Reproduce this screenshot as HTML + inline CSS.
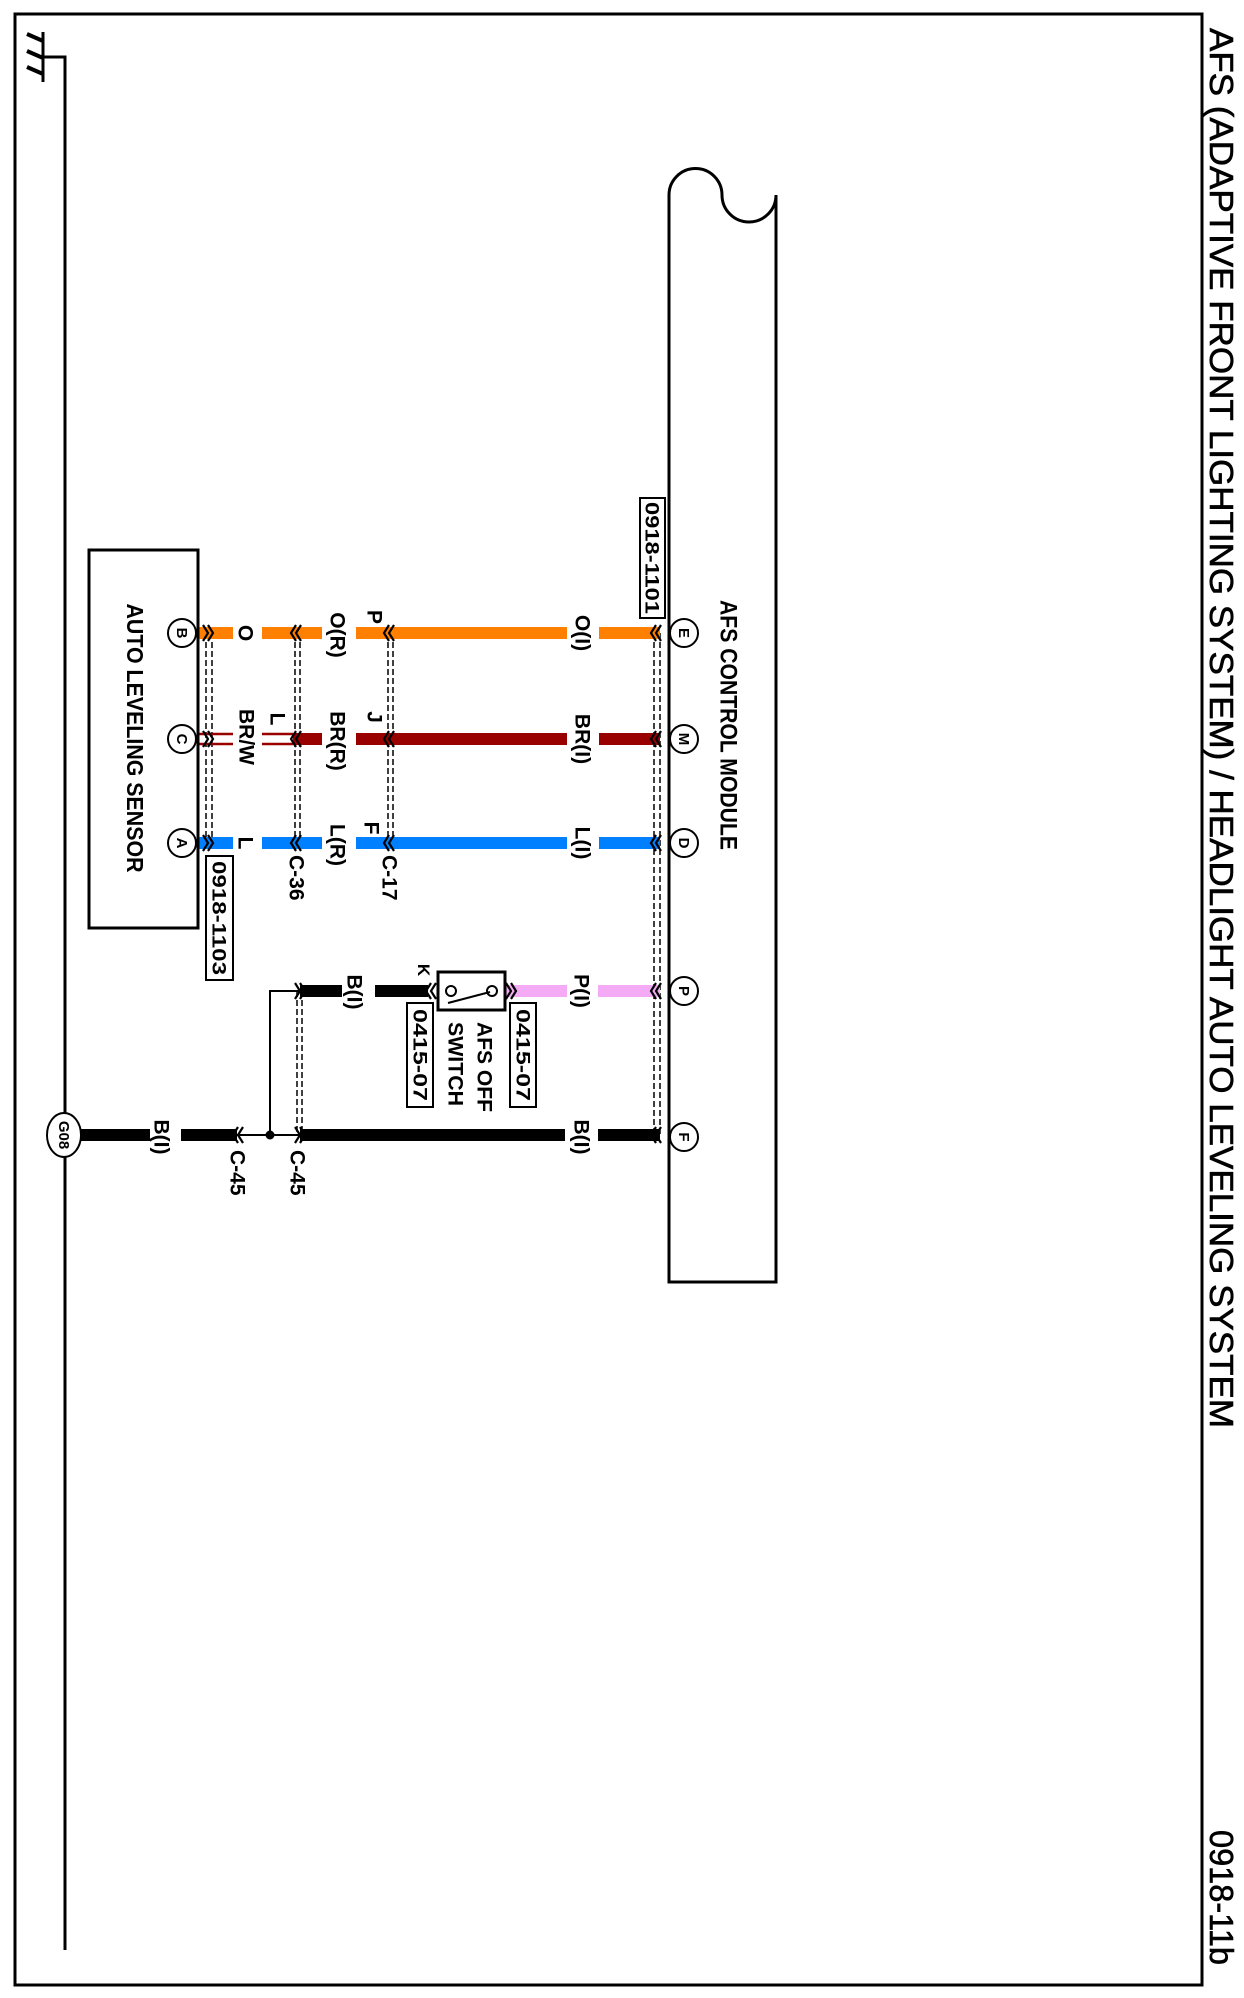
<!DOCTYPE html>
<html><head><meta charset="utf-8"><style>
html,body{margin:0;padding:0;background:#fff;}
svg{display:block;}
text{font-family:"Liberation Sans",Arial,sans-serif;font-weight:bold;fill:#000;}
</style></head><body>
<svg width="1244" height="1998" viewBox="0 0 1244 1998" xmlns="http://www.w3.org/2000/svg">
<rect x="0" y="0" width="1244" height="1998" fill="#fff"/>
<rect x="15" y="14" width="1187" height="1971" fill="none" stroke="#000" stroke-width="3"/>
<text transform="translate(1210,28) rotate(90)" font-size="33" style="font-weight:normal;stroke:#000;stroke-width:0.6" textLength="1400" lengthAdjust="spacingAndGlyphs">AFS (ADAPTIVE FRONT LIGHTING SYSTEM) / HEADLIGHT AUTO LEVELING SYSTEM</text>
<text transform="translate(1210,1830) rotate(90)" font-size="33" style="font-weight:normal;stroke:#000;stroke-width:0.6" textLength="135" lengthAdjust="spacingAndGlyphs">0918-11b</text>

<line x1="43" y1="32" x2="43" y2="82" stroke="#000" stroke-width="3"/>
<g stroke="#000" stroke-width="4"><line x1="27" y1="34" x2="43" y2="41"/><line x1="27" y1="51" x2="43" y2="58"/><line x1="27" y1="67" x2="43" y2="74"/></g>
<polyline points="43,57 65,57 65,1950" fill="none" stroke="#000" stroke-width="3"/>

<path d="M669,1282 L669,195 A26.5,26.5 0 0 1 722,195 A27,27 0 0 0 776,195 L776,1282 Z" fill="none" stroke="#000" stroke-width="3"/>
<text transform="translate(729,725) rotate(90)" font-size="24" text-anchor="middle" dy="0.35em" textLength="250" lengthAdjust="spacingAndGlyphs">AFS CONTROL MODULE</text>
<rect x="640" y="498" width="25" height="120" fill="#fff" stroke="#000" stroke-width="2"/>
<text transform="translate(652,558) rotate(90)" font-size="19" text-anchor="middle" dy="0.35em" textLength="112" lengthAdjust="spacingAndGlyphs">0918-1101</text>

<rect x="89" y="550" width="109" height="378" fill="none" stroke="#000" stroke-width="3"/>
<text transform="translate(135,738) rotate(90)" font-size="23" text-anchor="middle" dy="0.35em" textLength="269" lengthAdjust="spacingAndGlyphs">AUTO LEVELING SENSOR</text>
<rect x="206" y="856" width="27" height="124" fill="#fff" stroke="#000" stroke-width="2"/>
<text transform="translate(219,918) rotate(90)" font-size="19" text-anchor="middle" dy="0.35em" textLength="114" lengthAdjust="spacingAndGlyphs">0918-1103</text>

<g stroke="#000" stroke-width="1.5" stroke-dasharray="6,3">
<line x1="206" y1="633" x2="206" y2="843"/><line x1="212" y1="633" x2="212" y2="843"/>
<line x1="295" y1="633" x2="295" y2="843"/><line x1="300" y1="633" x2="300" y2="843"/>
<line x1="388" y1="633" x2="388" y2="843"/><line x1="393" y1="633" x2="393" y2="843"/>
<line x1="654" y1="633" x2="654" y2="1135"/><line x1="660" y1="633" x2="660" y2="1135"/>
<line x1="297" y1="991" x2="297" y2="1135"/><line x1="302" y1="991" x2="302" y2="1135"/>
</g>

<g stroke="#ff8000" stroke-width="12">
<line x1="198" y1="633" x2="233" y2="633"/><line x1="262" y1="633" x2="322" y2="633"/>
<line x1="356" y1="633" x2="567" y2="633"/><line x1="599" y1="633" x2="660" y2="633"/>
</g>
<g stroke="#990000" stroke-width="12">
<line x1="293" y1="739" x2="322" y2="739"/>
<line x1="356" y1="739" x2="567" y2="739"/><line x1="599" y1="739" x2="660" y2="739"/>
</g>
<g stroke="#990000" stroke-width="2.5">
<line x1="198" y1="734" x2="233" y2="734"/><line x1="198" y1="744" x2="233" y2="744"/>
<line x1="262" y1="734" x2="293" y2="734"/><line x1="262" y1="744" x2="293" y2="744"/>
</g>
<g stroke="#0080ff" stroke-width="12">
<line x1="198" y1="843" x2="233" y2="843"/><line x1="262" y1="843" x2="322" y2="843"/>
<line x1="356" y1="843" x2="567" y2="843"/><line x1="599" y1="843" x2="660" y2="843"/>
</g>
<g stroke="#f5aaf5" stroke-width="12">
<line x1="505" y1="991" x2="567" y2="991"/><line x1="598" y1="991" x2="660" y2="991"/>
</g>
<g stroke="#000" stroke-width="12">
<line x1="300" y1="991" x2="342" y2="991"/><line x1="375" y1="991" x2="428" y2="991"/>
<line x1="80" y1="1135" x2="150" y2="1135"/><line x1="181" y1="1135" x2="237" y2="1135"/>
<line x1="300" y1="1135" x2="565" y2="1135"/><line x1="598" y1="1135" x2="660" y2="1135"/>
</g>
<g stroke="#000" stroke-width="2" fill="none">
<line x1="237" y1="1135" x2="300" y2="1135"/>
<polyline points="270,1135 270,991 300,991"/>
</g>
<circle cx="270" cy="1135" r="4.5" fill="#000"/>

<line x1="669" y1="600" x2="669" y2="1200" stroke="#000" stroke-width="3"/>
<line x1="198" y1="600" x2="198" y2="880" stroke="#000" stroke-width="3"/>

<g stroke="#000" stroke-width="2.2" fill="none">
<g id="cr"><polyline points="203,625 208,633 203,641"/><polyline points="208,625 213,633 208,641"/></g>
<use href="#cr" y="106"/><use href="#cr" y="210"/>
<g id="cl"><polyline points="296,625 291,633 296,641"/><polyline points="301,625 296,633 301,641"/></g>
<use href="#cl" y="106"/><use href="#cl" y="210"/>
<use href="#cl" x="93"/><use href="#cl" x="93" y="106"/><use href="#cl" x="93" y="210"/>
<use href="#cl" x="360"/><use href="#cl" x="360" y="106"/><use href="#cl" x="360" y="210"/>
<use href="#cl" x="360" y="358"/><use href="#cl" x="360" y="502"/>
<use href="#cl" x="135" y="358"/>
<use href="#cl" x="-58" y="502"/>
<use href="#cr" x="92" y="358"/><use href="#cr" x="92" y="502"/>
<use href="#cr" x="303" y="358"/>
</g>

<rect x="438" y="972" width="67" height="38" fill="#fff" stroke="#000" stroke-width="3"/>
<circle cx="451" cy="991" r="5" fill="#fff" stroke="#000" stroke-width="2"/>
<circle cx="492" cy="991" r="5" fill="#fff" stroke="#000" stroke-width="2"/>
<line x1="448" y1="1003" x2="490" y2="992" stroke="#000" stroke-width="2"/>
<rect x="510" y="1003" width="26" height="104" fill="#fff" stroke="#000" stroke-width="2"/>
<text transform="translate(523,1055) rotate(90)" font-size="19" text-anchor="middle" dy="0.35em" textLength="92" lengthAdjust="spacingAndGlyphs">0415-07</text>
<rect x="407" y="1003" width="26" height="104" fill="#fff" stroke="#000" stroke-width="2"/>
<text transform="translate(420,1055) rotate(90)" font-size="19" text-anchor="middle" dy="0.35em" textLength="92" lengthAdjust="spacingAndGlyphs">0415-07</text>
<text transform="translate(485,1022) rotate(90)" font-size="21" text-anchor="start" dy="0.35em" textLength="90" lengthAdjust="spacingAndGlyphs">AFS OFF</text>
<text transform="translate(456,1022) rotate(90)" font-size="21" dy="0.35em" textLength="84" lengthAdjust="spacingAndGlyphs">SWITCH</text>

<g fill="#fff" stroke="#000" stroke-width="2">
<ellipse cx="182" cy="633" rx="14" ry="14"/><ellipse cx="182" cy="739" rx="14" ry="14"/><ellipse cx="182" cy="843" rx="14" ry="14"/>
<ellipse cx="684" cy="633" rx="14" ry="14"/><ellipse cx="684" cy="739" rx="14" ry="14"/><ellipse cx="684" cy="843" rx="14" ry="14"/>
<ellipse cx="684" cy="991" rx="14" ry="14"/><ellipse cx="684" cy="1137" rx="14" ry="14"/>
<ellipse cx="64" cy="1135" rx="17" ry="22"/>
</g>
<g font-size="15" text-anchor="middle">
<text transform="translate(182,633) rotate(90)" dy="0.35em">B</text>
<text transform="translate(182,739) rotate(90)" dy="0.35em">C</text>
<text transform="translate(182,843) rotate(90)" dy="0.35em">A</text>
<text transform="translate(684,633) rotate(90)" dy="0.35em">E</text>
<text transform="translate(684,739) rotate(90)" dy="0.35em">M</text>
<text transform="translate(684,843) rotate(90)" dy="0.35em">D</text>
<text transform="translate(684,991) rotate(90)" dy="0.35em">P</text>
<text transform="translate(684,1137) rotate(90)" dy="0.35em">F</text>
<text transform="translate(64,1135) rotate(90)" dy="0.35em" font-size="15">G08</text>
</g>

<g font-size="21" text-anchor="middle">
<text transform="translate(246,633) rotate(90)" dy="0.35em">O</text>
<text transform="translate(338,635) rotate(90)" dy="0.35em">O(R)</text>
<text transform="translate(583,633) rotate(90)" dy="0.35em">O(I)</text>
<text transform="translate(375,617) rotate(90)" dy="0.35em">P</text>
<text transform="translate(247,737) rotate(90)" dy="0.35em">BR/W</text>
<text transform="translate(278,719) rotate(90)" dy="0.35em">L</text>
<text transform="translate(338,741) rotate(90)" dy="0.35em">BR(R)</text>
<text transform="translate(375,717) rotate(90)" dy="0.35em">J</text>
<text transform="translate(583,739) rotate(90)" dy="0.35em">BR(I)</text>
<text transform="translate(246,843) rotate(90)" dy="0.35em">L</text>
<text transform="translate(338,845) rotate(90)" dy="0.35em">L(R)</text>
<text transform="translate(372,828) rotate(90)" dy="0.35em">F</text>
<text transform="translate(583,843) rotate(90)" dy="0.35em">L(I)</text>
<text transform="translate(355,992) rotate(90)" dy="0.35em">B(I)</text>
<text transform="translate(582,991) rotate(90)" dy="0.35em">P(I)</text>
<text transform="translate(424,970) rotate(90)" dy="0.35em" font-size="17">K</text>
<text transform="translate(162,1137) rotate(90)" dy="0.35em">B(I)</text>
<text transform="translate(582,1137) rotate(90)" dy="0.35em">B(I)</text>
</g>
<g font-size="21">
<text transform="translate(297,855) rotate(90)" dy="0.35em">C-36</text>
<text transform="translate(390,855) rotate(90)" dy="0.35em">C-17</text>
<text transform="translate(238,1150) rotate(90)" dy="0.35em">C-45</text>
<text transform="translate(298,1150) rotate(90)" dy="0.35em">C-45</text>
</g>
</svg>
</body></html>
